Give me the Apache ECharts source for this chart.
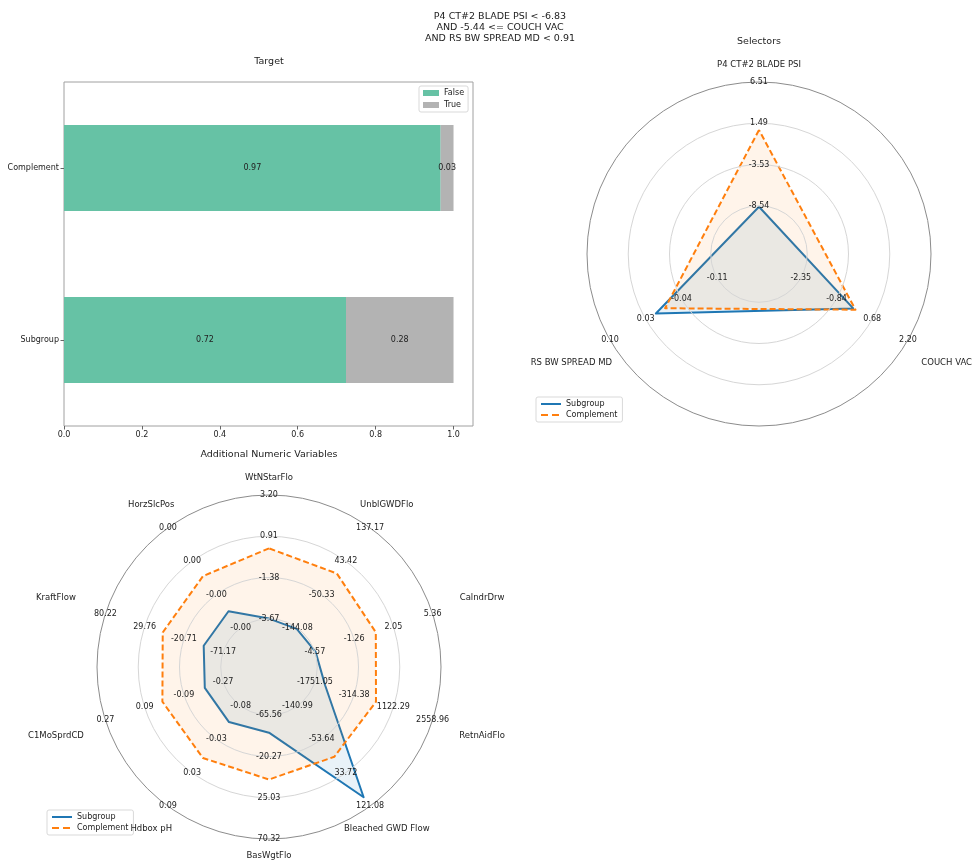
<!DOCTYPE html>
<html><head><meta charset="utf-8">
<script src="https://cdn.jsdelivr.net/npm/echarts@6/dist/echarts.min.js"></script>
<style>html,body{margin:0;padding:0;background:#fff}#c{width:975px;height:862px}</style>
</head><body><div id="c"></div>
<script>
// ---------- data ----------
const titleLines = ['P4 CT#2 BLADE PSI < -6.83', 'AND -5.44 <= COUCH VAC', 'AND RS BW SPREAD MD < 0.91'];

const barCategories = ['Subgroup', 'Complement'];
const barFalse = [0.724, 0.967];
const barTrue = [0.276, 0.033];
const xTickValues = [0, 0.2, 0.4, 0.6, 0.8, 1.0];

// Selectors radar (counter-clockwise from top)
const selNames = ['P4 CT#2 BLADE PSI', 'RS BW SPREAD MD', 'COUCH VAC'];
const selTicks = [
  [-8.544, -3.527, 1.489, 6.506],
  [-0.11, -0.04, 0.03, 0.10],
  [-2.354, -0.837, 0.681, 2.198]
];
const selSubgroup = [-8.66, 0.0102, -0.127];
const selComplement = [0.668, -0.0078, -0.031];

// Additional numeric variables radar (counter-clockwise from top)
const numNames = ['WtNStarFlo', 'HorzSlcPos', 'KraftFlow', 'C1MoSprdCD', 'Hdbox pH', 'BasWgtFlo',
  'Bleached GWD Flow', 'RetnAidFlo', 'CalndrDrw', 'UnblGWDFlo'];
const numTicks = [
  [-3.67, -1.38, 0.91, 3.20],
  [-0.0045, -0.0015, 0.0015, 0.0045],
  [-71.17, -20.71, 29.76, 80.22],
  [-0.27, -0.09, 0.09, 0.27],
  [-0.082, -0.0253, 0.0313, 0.088],
  [-65.56, -20.27, 25.03, 70.32],
  [-140.994, -53.637, 33.72, 121.077],
  [-1751.05, -314.38, 1122.29, 2558.96],
  [-4.57, -1.26, 2.05, 5.36],
  [-144.08, -50.33, 43.42, 137.17]
];
const numSubgroup = [-3.66, -0.0030, -46.2, -0.186, -0.0548, -46.4, 97.8, -1376.6, -4.51, -146.5];
const numComplement = [0.24, 0.00016, 6.5, 0.0086, 0.0062, 5.0, -8.1, 486.7, 0.57, 8.8];

// ---------- styles / layout ----------
const FONT = 'DejaVu Sans';
const BLUE = '#1f77b4', ORANGE = '#ff7f0e';
const TEAL = '#66c2a5', GREY = '#b3b3b3';
const TXT = '#222';
const SOLID_ICON = 'path://M0,0h20v2h-20z';
const DASH_ICON = 'path://M0,0h7v2h-7zM11,0h7v2h-7zM20,0h0v2h0z';
const R_IN = 7, R_OUT = 172;          // radar inner / outer radius
const NAME_A = 229, NAME_B = 189;     // ellipse on which axis names are centred

function nameGap(i, n) {
  const phi = i * 2 * Math.PI / n;
  const s = Math.sin(phi), c = Math.cos(phi);
  return 1 / Math.sqrt(s * s / (NAME_A * NAME_A) + c * c / (NAME_B * NAME_B)) - R_OUT;
}

function makeRadar(center, names, ticks) {
  return {
    center: center, radius: [R_IN, R_OUT], shape: 'circle', splitNumber: 4, startAngle: 90, z: 5,
    indicator: names.map((n, i) => {
      const t = ticks[i];
      const step = (t[3] - t[0]) / 3;
      return { name: n, min: t[0] - step, max: t[3], nameGap: nameGap(i, names.length) };
    }),
    axisName: { color: TXT, fontSize: 8.5, fontFamily: FONT, align: 'center', verticalAlign: 'middle' },
    nameGap: 17,
    axisLine: { show: false },
    axisTick: { show: false },
    axisLabel: {
      show: true, margin: 0, align: 'center', verticalAlign: 'middle',
      color: TXT, fontSize: 8, fontFamily: FONT, showMinLabel: false,
      formatter: (v, i) => (i === 0 ? '' : Number(v).toFixed(2))
    },
    splitLine: { show: true, lineStyle: { color: ['rgba(0,0,0,0)', '#d6d6d6', '#d6d6d6', '#d6d6d6', '#8c8c8c'], width: 1 } },
    splitArea: { show: false }
  };
}

function radarSeries(idx, sub, comp) {
  return {
    type: 'radar', radarIndex: idx, symbol: 'none', z: 2,
    data: [
      { name: 'Subgroup', value: sub, itemStyle: { color: BLUE },
        lineStyle: { color: BLUE, width: 2 }, areaStyle: { color: 'rgba(31,119,180,0.14)' } },
      { name: 'Complement', value: comp, itemStyle: { color: ORANGE },
        lineStyle: { color: ORANGE, width: 2, type: [6, 3] }, areaStyle: { color: 'rgba(255,127,14,0.12)' } }
    ]
  };
}

function radarLegend(left, top) {
  return {
    orient: 'vertical', left: left, top: top, padding: [3, 5, 3, 5], itemGap: 3,
    itemWidth: 20, itemHeight: 2, selectedMode: false,
    borderColor: '#d9d9d9', borderWidth: 1, borderRadius: 2, backgroundColor: '#fff',
    textStyle: { color: TXT, fontSize: 8, fontFamily: FONT },
    data: [
      { name: 'Subgroup', icon: SOLID_ICON, itemStyle: { color: BLUE } },
      { name: 'Complement', icon: DASH_ICON, itemStyle: { color: ORANGE } }
    ]
  };
}

const titleStyle = { fontSize: 9.5, fontWeight: 'normal', color: TXT, fontFamily: FONT };

const option = {
  animation: false,
  backgroundColor: '#fff',
  textStyle: { fontFamily: FONT },
  title: [
    { text: titleLines.join('\n'), left: 500, top: 11, textAlign: 'center', padding: 0,
      textStyle: Object.assign({ lineHeight: 11 }, titleStyle) },
    { text: 'Target', left: 269, top: 57, textAlign: 'center', padding: 0, textStyle: titleStyle },
    { text: 'Selectors', left: 759, top: 37, textAlign: 'center', padding: 0, textStyle: titleStyle },
    { text: 'Additional Numeric Variables', left: 269, top: 450, textAlign: 'center', padding: 0, textStyle: titleStyle }
  ],
  legend: [
    { orient: 'vertical', left: 419, top: 86, padding: [3, 4, 3, 4], itemGap: 4,
      itemWidth: 16, itemHeight: 6, icon: 'rect', selectedMode: false,
      borderColor: '#d9d9d9', borderWidth: 1, borderRadius: 2, backgroundColor: '#fff',
      textStyle: { color: TXT, fontSize: 8, fontFamily: FONT },
      data: [{ name: 'False', itemStyle: { color: TEAL } }, { name: 'True', itemStyle: { color: GREY } }] },
    radarLegend(536, 397),
    radarLegend(47, 810)
  ],
  grid: { left: 64, top: 82, width: 409, height: 344, show: true, borderColor: '#a0a0a0', borderWidth: 1, containLabel: false },
  xAxis: {
    type: 'value', min: 0, max: 1.05, interval: 0.2,
    axisLine: { show: false }, splitLine: { show: false },
    axisTick: { show: true, length: 3.5, lineStyle: { color: '#666' }, customValues: xTickValues },
    axisLabel: { color: TXT, fontSize: 8, fontFamily: FONT, margin: 5, customValues: xTickValues,
      formatter: v => (v > 1.0001 ? '' : Number(v).toFixed(1)) }
  },
  yAxis: {
    type: 'category', data: barCategories,
    axisLine: { show: false }, splitLine: { show: false },
    axisTick: { show: true, alignWithLabel: true, length: 3.5, lineStyle: { color: '#666' } },
    axisLabel: { color: TXT, fontSize: 8, fontFamily: FONT, margin: 5 }
  },
  radar: [
    makeRadar([759, 254], selNames, selTicks),
    makeRadar([269, 667], numNames, numTicks)
  ],
  series: [
    { type: 'bar', name: 'False', stack: 'all', data: barFalse, barWidth: '50%',
      itemStyle: { color: TEAL },
      label: { show: true, position: 'inside', color: TXT, fontSize: 8, fontFamily: FONT,
        formatter: p => Number(p.value).toFixed(2) } },
    { type: 'bar', name: 'True', stack: 'all', data: barTrue, barWidth: '50%',
      itemStyle: { color: GREY },
      label: { show: true, position: 'inside', color: TXT, fontSize: 8, fontFamily: FONT,
        formatter: p => Number(p.value).toFixed(2) } },
    radarSeries(0, selSubgroup, selComplement),
    radarSeries(1, numSubgroup, numComplement)
  ]
};

const chart = echarts.init(document.getElementById('c'), null, { renderer: 'canvas' });
chart.setOption(option);
</script>
</body></html>
